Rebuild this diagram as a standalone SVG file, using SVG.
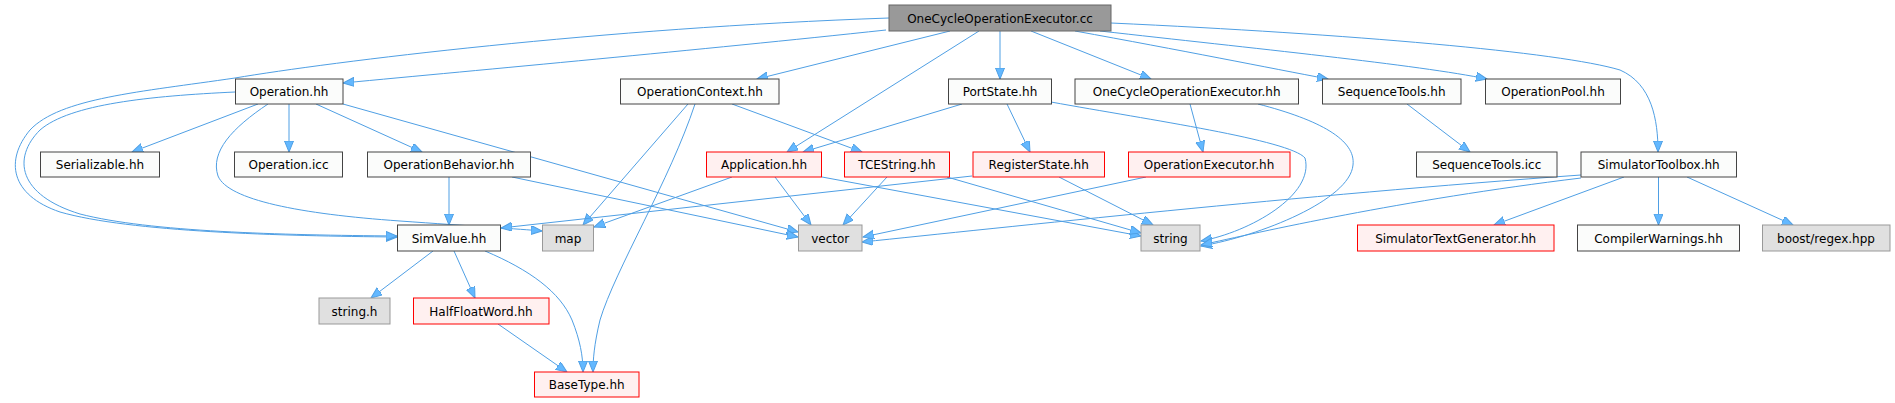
<svg xmlns="http://www.w3.org/2000/svg" width="1895" height="403" viewBox="0 0 1895 403">
<style>
text{font-family:"DejaVu Sans","Liberation Sans",sans-serif;font-size:12px;fill:#000;text-anchor:middle}
.w{fill:#fbfcfb;stroke:#444444;stroke-width:1}
.r{fill:#fff0f0;stroke:#ff0000;stroke-width:1}
.g{fill:#e0e0e0;stroke:#999999;stroke-width:1}
.root{fill:#999999;stroke:#666666;stroke-width:1}
#edges path{fill:none;stroke:#4f9fe4;stroke-width:1;marker-end:url(#a)}
</style>
<defs>
<marker id="a" markerWidth="12" markerHeight="10" refX="11" refY="4.5" orient="auto" markerUnits="userSpaceOnUse">
<path d="M0,0 L11,4.5 L0,9 z" fill="#63b8ff" stroke="#4f9fe4" stroke-width="1"/>
</marker>
</defs>
<rect width="1895" height="403" fill="#ffffff"/>
<g id="edges">
<path d="M886,30 C 700,50 480,70 343,83"/>
<path d="M889,18 C 600,28 330,62 235,78 C 140,92 60,98 30,130 C 5,160 10,195 60,212 C 130,232 280,236 397,237"/>
<path d="M950,31 L757,79"/>
<path d="M979,31 L787,152"/>
<path d="M1000,31 L1000,79"/>
<path d="M1031,31 L1151,79"/>
<path d="M1075,31 C 1180,50 1270,68 1328,79"/>
<path d="M1100,31 C 1250,48 1420,65 1487,79"/>
<path d="M1111,23 C 1350,34 1560,52 1620,70 C 1652,84 1658,120 1658,152"/>
<path d="M258,104 L132,152"/>
<path d="M289,104 L289,152"/>
<path d="M316,104 L422,152"/>
<path d="M235,92 C 150,96 70,104 40,130 C 12,158 18,195 80,214 C 150,232 280,235 397,236"/>
<path d="M268,104 C 232,128 210,152 218,176 C 228,200 300,214 400,221 C 470,226 520,229 542,231"/>
<path d="M343,104 L798,232"/>
<path d="M688,104 L583,225"/>
<path d="M695,104 C 670,180 615,270 600,320 C 594,345 593,360 593,372"/>
<path d="M732,104 L862,152"/>
<path d="M962,104 L803,152"/>
<path d="M1007,104 L1030,152"/>
<path d="M1051,102 C 1150,120 1290,140 1305,158 C 1315,195 1250,232 1201,241"/>
<path d="M1190,104 L1203,152"/>
<path d="M1258,104 C 1320,120 1356,140 1353,165 C 1350,200 1260,236 1201,246"/>
<path d="M1407,104 L1470,152"/>
<path d="M1624,177 L1494,225"/>
<path d="M1658.5,177 L1658.5,225"/>
<path d="M1687,177 L1793,225"/>
<path d="M1581,175 C 1300,195 1000,228 862,242"/>
<path d="M1581,178 C 1400,200 1260,232 1201,245"/>
<path d="M449,177 L449,225"/>
<path d="M512,177 L798,237"/>
<path d="M732,177 L594,227"/>
<path d="M775,177 L811,225"/>
<path d="M822,177 L1141,236"/>
<path d="M887,177 L843,225"/>
<path d="M947,177 L1141,233"/>
<path d="M972,176 L501,228"/>
<path d="M1059,177 L1153,225"/>
<path d="M1146,177 L863,237"/>
<path d="M433,251 L371,298"/>
<path d="M454,251 L475,298"/>
<path d="M485,251 C 530,270 560,292 572,320 C 580,340 583,356 583,372"/>
<path d="M498,324 L567,372"/>
</g>
<g id="n_root"><rect class="root" x="889" y="5" width="222" height="26"/><text x="1000" y="22.5">OneCycleOperationExecutor.cc</text></g>
<g id="n_operation_hh"><rect class="w" x="235.5" y="79" width="107.5" height="25"/><text x="289" y="96">Operation.hh</text></g>
<g id="n_operationcontext"><rect class="w" x="620.5" y="79" width="158.5" height="25"/><text x="700" y="96">OperationContext.hh</text></g>
<g id="n_portstate"><rect class="w" x="948.5" y="79" width="103" height="25"/><text x="1000" y="96">PortState.hh</text></g>
<g id="n_ocoe_hh"><rect class="w" x="1075" y="79" width="223.5" height="25"/><text x="1186.7" y="96">OneCycleOperationExecutor.hh</text></g>
<g id="n_seqtools_hh"><rect class="w" x="1322.5" y="79" width="138.5" height="25"/><text x="1391.7" y="96">SequenceTools.hh</text></g>
<g id="n_oppool"><rect class="w" x="1485.5" y="79" width="135" height="25"/><text x="1553" y="96">OperationPool.hh</text></g>
<g id="n_serializable"><rect class="w" x="40.5" y="152" width="119" height="25"/><text x="100" y="169">Serializable.hh</text></g>
<g id="n_operation_icc"><rect class="w" x="234.5" y="152" width="108" height="25"/><text x="288.5" y="169">Operation.icc</text></g>
<g id="n_opbehavior"><rect class="w" x="367.5" y="152" width="163" height="25"/><text x="449" y="169">OperationBehavior.hh</text></g>
<g id="n_application"><rect class="r" x="706.5" y="152" width="115" height="25"/><text x="764" y="169">Application.hh</text></g>
<g id="n_tcestring"><rect class="r" x="844.5" y="152" width="105" height="25"/><text x="897" y="169">TCEString.hh</text></g>
<g id="n_registerstate"><rect class="r" x="973" y="152" width="131.5" height="25"/><text x="1038.7" y="169">RegisterState.hh</text></g>
<g id="n_opexecutor"><rect class="r" x="1128.5" y="152" width="161.5" height="25"/><text x="1209" y="169">OperationExecutor.hh</text></g>
<g id="n_seqtools_icc"><rect class="w" x="1416.5" y="152" width="140.5" height="25"/><text x="1486.7" y="169">SequenceTools.icc</text></g>
<g id="n_simtoolbox"><rect class="w" x="1581" y="152" width="155.5" height="25"/><text x="1658.7" y="169">SimulatorToolbox.hh</text></g>
<g id="n_simvalue"><rect class="w" x="397.5" y="225" width="103" height="26"/><text x="449" y="242.5">SimValue.hh</text></g>
<g id="n_map"><rect class="g" x="542.5" y="225" width="51" height="26"/><text x="568" y="242.5">map</text></g>
<g id="n_vector"><rect class="g" x="798.5" y="225" width="63.5" height="26"/><text x="830.2" y="242.5">vector</text></g>
<g id="n_string"><rect class="g" x="1141" y="225" width="59" height="26"/><text x="1170.5" y="242.5">string</text></g>
<g id="n_simtextgen"><rect class="r" x="1357.5" y="225" width="196.5" height="26"/><text x="1455.7" y="242.5">SimulatorTextGenerator.hh</text></g>
<g id="n_compwarn"><rect class="w" x="1577.5" y="225" width="162" height="26"/><text x="1658.5" y="242.5">CompilerWarnings.hh</text></g>
<g id="n_boostregex"><rect class="g" x="1762.5" y="225" width="127.5" height="26"/><text x="1826" y="242.5">boost/regex.hpp</text></g>
<g id="n_string_h"><rect class="g" x="319" y="298" width="71" height="26"/><text x="354.5" y="315.5">string.h</text></g>
<g id="n_halffloat"><rect class="r" x="413.5" y="298" width="135.5" height="26"/><text x="481" y="315.5">HalfFloatWord.hh</text></g>
<g id="n_basetype"><rect class="r" x="534.5" y="372" width="104.5" height="25"/><text x="586.7" y="389">BaseType.hh</text></g>
</svg>
